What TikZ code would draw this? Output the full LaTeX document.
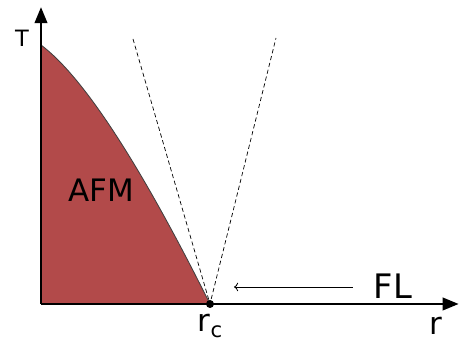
\documentclass[tikz,border=0pt]{standalone}
\usepackage{fontspec}
\setmainfont{DejaVu Sans}
\usetikzlibrary{arrows.meta}
\definecolor{afmred}{RGB}{178,74,74}

\begin{document}
\begin{tikzpicture}
        \useasboundingbox (-1.025, -0.925) rectangle (10.45, 7.6);
        \coordinate (O) at (0, 0);
        \coordinate (rc) at (4.225, 0);
        \coordinate (Tn) at (0, 6.475);
        \coordinate (xend) at (10.44, 0);
        \coordinate (yend) at (0, 7.42);
        \fill[afmred] (Tn) .. controls (1.053, 5.685) and (2.463, 3.527) .. (rc)
            -- (O) -- cycle;
        \draw[black!75, line width=0.6pt] (Tn) .. controls (1.053, 5.685)
            and (2.463, 3.527) .. (rc);
        \coordinate (dl) at (2.3, 6.625);
        \coordinate (dr) at (5.875, 6.65);
        \draw[densely dashed, line width=0.5pt] (dl) -- (rc) -- (dr);
        \draw[line width=1.2pt, -{Triangle[length=4mm, width=3.2mm]}] (O) -- (xend);
        \draw[line width=1.2pt, -{Triangle[length=4mm, width=3.2mm]}] (O) -- (yend);
        \fill (rc) circle (0.1);
        \node[font=\fontsize{16}{18}\selectfont] (T) at (-0.475, 6.65) {T};
        \node[font=\fontsize{22}{26}\selectfont] (afm) at (1.5, 2.85) {AFM};
        \node[font=\fontsize{24}{28}\selectfont] (fl) at (8.8, 0.45) {FL};
        \coordinate (flstart) at (7.8, 0.425);
        \coordinate (flend) at (4.825, 0.425);
        \draw[line width=0.6pt, ->] (flstart) -- (flend);
        \node[font=\fontsize{22}{26}\selectfont, inner sep=0pt] (r) at (9.875, -0.55) {r};
        \node[font=\fontsize{22}{26}\selectfont, inner sep=0pt] (rlabel) at (4.225, -0.55)
            {r\raisebox{-0.3ex}{\fontsize{15}{18}\selectfont c}};
    \end{tikzpicture}
\end{document}
